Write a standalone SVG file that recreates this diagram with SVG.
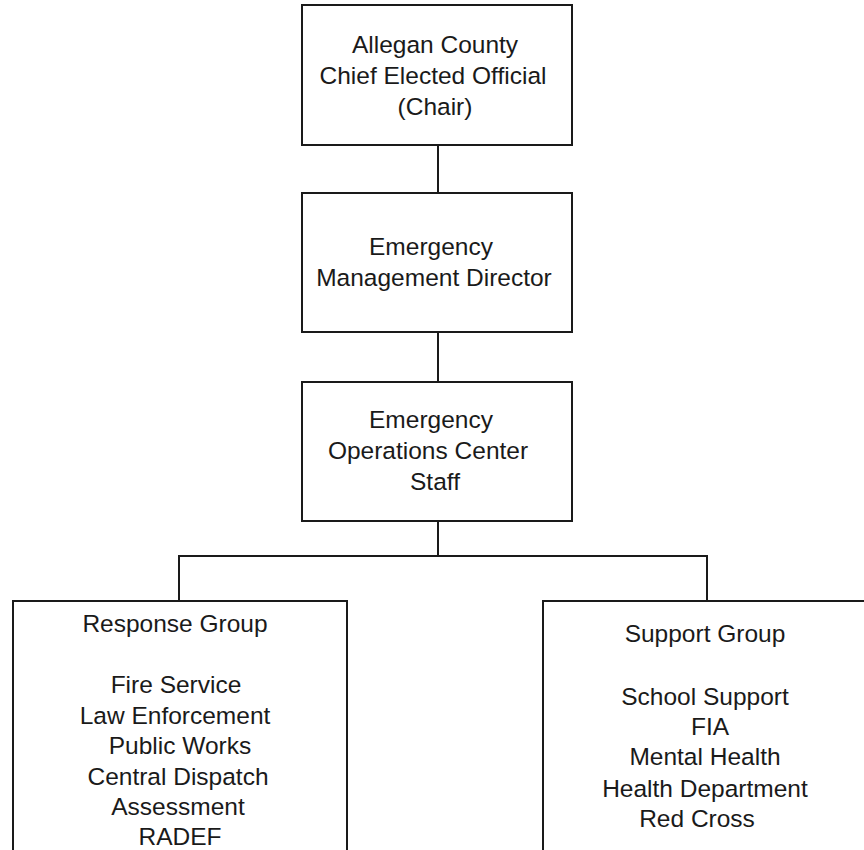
<svg xmlns="http://www.w3.org/2000/svg" width="864" height="850" viewBox="0 0 864 850">
  <style>
    .box { fill: #ffffff; stroke: #1a1a1a; stroke-width: 2; }
    .link { fill: none; stroke: #1a1a1a; stroke-width: 2; }
    text { font-family: "Liberation Sans", Arial, sans-serif; font-size: 24.5px; fill: #1a1a1a; text-anchor: middle; }
  </style>
  <rect width="864" height="850" fill="#ffffff"/>

  <g id="connectors">
    <line class="link" x1="438" y1="145" x2="438" y2="193"/>
    <line class="link" x1="438" y1="332" x2="438" y2="382"/>
    <line class="link" x1="438" y1="521" x2="438" y2="556"/>
    <polyline class="link" points="179,601 179,556 707,556 707,601"/>
  </g>

  <g id="chief-elected-official">
    <rect class="box" x="302" y="5" width="270" height="140"/>
    <text x="435" y="53">Allegan County</text>
    <text x="433" y="84">Chief Elected Official</text>
    <text x="435" y="115">(Chair)</text>
  </g>

  <g id="em-director">
    <rect class="box" x="302" y="193" width="270" height="139"/>
    <text x="431" y="255">Emergency</text>
    <text x="434" y="286">Management Director</text>
  </g>

  <g id="eoc-staff">
    <rect class="box" x="302" y="382" width="270" height="139"/>
    <text x="431" y="428">Emergency</text>
    <text x="428" y="459">Operations Center</text>
    <text x="435" y="490">Staff</text>
  </g>

  <g id="response-group">
    <rect class="box" x="13" y="601" width="334" height="260"/>
    <text x="175" y="632">Response Group</text>
    <text x="176" y="693">Fire Service</text>
    <text x="175" y="724">Law Enforcement</text>
    <text x="180" y="754">Public Works</text>
    <text x="178" y="785">Central Dispatch</text>
    <text x="178" y="815">Assessment</text>
    <text x="180" y="845">RADEF</text>
  </g>

  <g id="support-group">
    <rect class="box" x="543" y="601" width="340" height="260"/>
    <text x="705" y="642">Support Group</text>
    <text x="705" y="705">School Support</text>
    <text x="710" y="735">FIA</text>
    <text x="705" y="765">Mental Health</text>
    <text x="705" y="797">Health Department</text>
    <text x="697" y="827">Red Cross</text>
  </g>
</svg>
